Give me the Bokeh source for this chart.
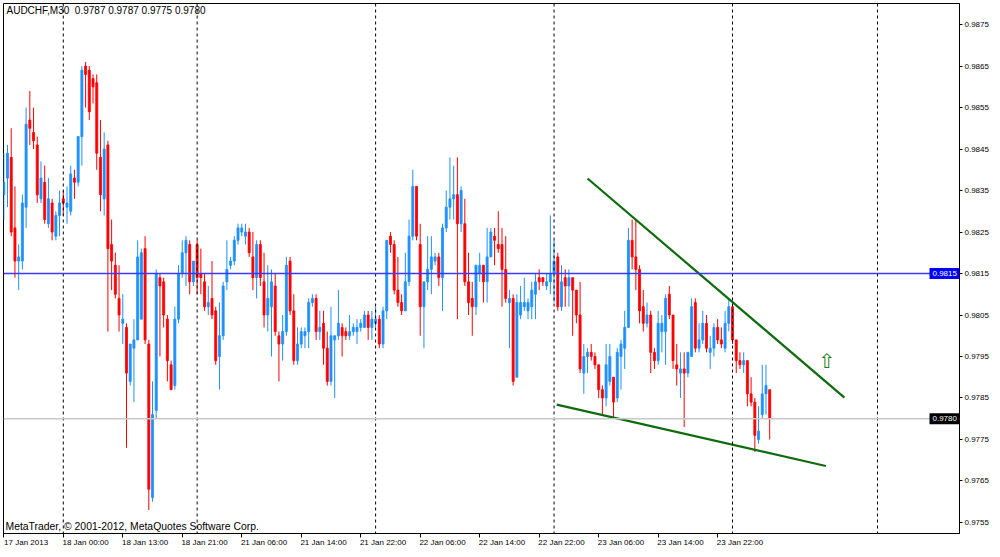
from bokeh.plotting import figure
from bokeh.models import (ColumnDataSource, Span, Label, FixedTicker, Range1d,
                          PrintfTickFormatter, LinearAxis, BoxAnnotation)
from bokeh.embed import file_html
from bokeh.resources import INLINE
from bokeh.core.properties import value

# ---------------- data ----------------
symbol = "AUDCHF,M30"
last_ohlc = [0.9787, 0.9787, 0.9775, 0.9780]
copyright_text = "MetaTrader, \u00a9 2001-2012, MetaQuotes Software Corp."

opens = [0.9834, 0.9838, 0.9843, 0.9826, 0.9818, 0.9818, 0.9831, 0.9852, 0.9849, 0.9846,
         0.9833, 0.9837, 0.9827, 0.9832, 0.9824, 0.9829, 0.9833, 0.9831, 0.9830, 0.9838,
         0.9837, 0.9848, 0.9865, 0.9864, 0.9862, 0.9861, 0.9843, 0.9833, 0.9846, 0.9822,
         0.9817, 0.9809, 0.9803, 0.9802, 0.9789, 0.9797, 0.9799, 0.9804, 0.9821, 0.9798,
         0.9761, 0.9782, 0.9814, 0.9813, 0.9804, 0.9793, 0.9788, 0.9804, 0.9815, 0.9820,
         0.9822, 0.9813, 0.9822, 0.9815, 0.9813, 0.9807, 0.9809, 0.9806, 0.9795, 0.9800,
         0.9813, 0.9817, 0.9818, 0.9823, 0.9825, 0.9824, 0.9825, 0.9819, 0.9814, 0.9822,
         0.9813, 0.9805, 0.9807, 0.9812, 0.9800, 0.9798, 0.9801, 0.9818, 0.9806, 0.9794,
         0.9798, 0.9800, 0.9801, 0.9808, 0.9809, 0.9801, 0.9803, 0.9797, 0.9789, 0.9799,
         0.9800, 0.9802, 0.9801, 0.9800, 0.9801, 0.9801, 0.9802, 0.9802, 0.9805, 0.9802,
         0.9803, 0.9804, 0.9798, 0.9806, 0.9824, 0.9822, 0.9811, 0.9808, 0.9806, 0.9813,
         0.9824, 0.9836, 0.9822, 0.9807, 0.9813, 0.9816, 0.9818, 0.9819, 0.9814, 0.9826,
         0.9831, 0.9833, 0.9834, 0.9827, 0.9827, 0.9813, 0.9809, 0.9807, 0.9815, 0.9817,
         0.9813, 0.9819, 0.9824, 0.9822, 0.9822, 0.9816, 0.9808, 0.9809, 0.9790, 0.9805,
         0.9807, 0.9806, 0.9807, 0.9810, 0.9814, 0.9814, 0.9812, 0.9813, 0.9815, 0.9819,
         0.9807, 0.9814, 0.9812, 0.9814, 0.9811, 0.9805, 0.9791, 0.9795, 0.9796, 0.9795,
         0.9793, 0.9787, 0.9785, 0.9789, 0.9790, 0.9785, 0.9795, 0.9797, 0.9802, 0.9823,
         0.9819, 0.9816, 0.9807, 0.9803, 0.9805, 0.9796, 0.9794, 0.9801, 0.9801, 0.9810,
         0.9805, 0.9793, 0.9791, 0.9792, 0.9791, 0.9795, 0.9808, 0.9797, 0.9799, 0.9803,
         0.9796, 0.9797, 0.9802, 0.9799, 0.9797, 0.9803, 0.9807, 0.9799, 0.9794, 0.9793,
         0.9794, 0.9786, 0.9784, 0.9775, 0.9781, 0.9786, 0.9787]
highs = [0.9844, 0.9846, 0.9850, 0.9836, 0.9822, 0.9834, 0.9855, 0.9859, 0.9855, 0.9848,
         0.9842, 0.9841, 0.9838, 0.9833, 0.9830, 0.9835, 0.9835, 0.9836, 0.9841, 0.9840,
         0.9848, 0.9865, 0.9866, 0.9865, 0.9863, 0.9863, 0.9852, 0.9849, 0.9847, 0.9828,
         0.9820, 0.9817, 0.9810, 0.9803, 0.9798, 0.9804, 0.9823, 0.9821, 0.9824, 0.9799,
         0.9789, 0.9816, 0.9815, 0.9814, 0.9805, 0.9794, 0.9807, 0.9817, 0.9823, 0.9824,
         0.9823, 0.9818, 0.9823, 0.9821, 0.9815, 0.9812, 0.9818, 0.9807, 0.9808, 0.9813,
         0.9823, 0.9819, 0.9824, 0.9827, 0.9827, 0.9827, 0.9826, 0.9825, 0.9823, 0.9823,
         0.9820, 0.9817, 0.9816, 0.9815, 0.9801, 0.9805, 0.9819, 0.9819, 0.9810, 0.9802,
         0.9802, 0.9802, 0.9809, 0.9810, 0.9810, 0.9806, 0.9806, 0.9801, 0.9807, 0.9800,
         0.9811, 0.9803, 0.9802, 0.9805, 0.9803, 0.9804, 0.9804, 0.9806, 0.9806, 0.9806,
         0.9807, 0.9805, 0.9807, 0.9823, 0.9825, 0.9823, 0.9819, 0.9810, 0.9820, 0.9828,
         0.9840, 0.9836, 0.9827, 0.9813, 0.9824, 0.9824, 0.9820, 0.9820, 0.9827, 0.9835,
         0.9843, 0.9841, 0.9843, 0.9836, 0.9833, 0.9820, 0.9813, 0.9817, 0.9820, 0.9817,
         0.9826, 0.9826, 0.9826, 0.9830, 0.9826, 0.9824, 0.9811, 0.9810, 0.9810, 0.9812,
         0.9814, 0.9809, 0.9813, 0.9815, 0.9816, 0.9814, 0.9815, 0.9829, 0.9823, 0.9820,
         0.9817, 0.9816, 0.9816, 0.9814, 0.9811, 0.9813, 0.9798, 0.9797, 0.9798, 0.9796,
         0.9793, 0.9788, 0.9798, 0.9798, 0.9790, 0.9797, 0.9799, 0.9806, 0.9826, 0.9828,
         0.9828, 0.9817, 0.9811, 0.9808, 0.9806, 0.9797, 0.9806, 0.9805, 0.9810, 0.9812,
         0.9805, 0.9798, 0.9796, 0.9796, 0.9796, 0.9809, 0.9809, 0.9803, 0.9806, 0.9805,
         0.9800, 0.9803, 0.9804, 0.9802, 0.9806, 0.9809, 0.9807, 0.9799, 0.9796, 0.9796,
         0.9794, 0.9790, 0.9785, 0.9783, 0.9793, 0.9793, 0.9787]
lows = [0.9828, 0.9831, 0.9824, 0.9814, 0.9811, 0.9816, 0.9826, 0.9846, 0.9845, 0.9832,
        0.9832, 0.9827, 0.9826, 0.9823, 0.9823, 0.9824, 0.9829, 0.9827, 0.9829, 0.9833,
        0.9836, 0.9841, 0.9855, 0.9852, 0.9856, 0.9840, 0.9830, 0.9829, 0.9801, 0.9811,
        0.9809, 0.9801, 0.9798, 0.9773, 0.9788, 0.9784, 0.9799, 0.9804, 0.9798, 0.9758,
        0.9760, 0.9780, 0.9795, 0.9802, 0.9789, 0.9787, 0.9787, 0.9803, 0.9814, 0.9812,
        0.9810, 0.9812, 0.9810, 0.9810, 0.9806, 0.9805, 0.9804, 0.9793, 0.9787, 0.9799,
        0.9811, 0.9816, 0.9817, 0.9822, 0.9824, 0.9822, 0.9819, 0.9811, 0.9809, 0.9812,
        0.9802, 0.9801, 0.9795, 0.9800, 0.9789, 0.9794, 0.9800, 0.9805, 0.9793, 0.9793,
        0.9797, 0.9797, 0.9797, 0.9807, 0.9799, 0.9799, 0.9793, 0.9788, 0.9788, 0.9785,
        0.9799, 0.9795, 0.9799, 0.9799, 0.9800, 0.9798, 0.9801, 0.9802, 0.9799, 0.9799,
        0.9802, 0.9797, 0.9797, 0.9804, 0.9820, 0.9810, 0.9807, 0.9805, 0.9806, 0.9812,
        0.9823, 0.9823, 0.9800, 0.9797, 0.9811, 0.9810, 0.9817, 0.9812, 0.9806, 0.9825,
        0.9828, 0.9828, 0.9804, 0.9825, 0.9812, 0.9805, 0.9800, 0.9805, 0.9813, 0.9808,
        0.9808, 0.9819, 0.9817, 0.9820, 0.9807, 0.9808, 0.9797, 0.9788, 0.9790, 0.9804,
        0.9806, 0.9804, 0.9804, 0.9804, 0.9811, 0.9812, 0.9811, 0.9810, 0.9808, 0.9806,
        0.9806, 0.9807, 0.9807, 0.9800, 0.9803, 0.9791, 0.9786, 0.9791, 0.9794, 0.9792,
        0.9785, 0.9781, 0.9783, 0.9788, 0.9780, 0.9784, 0.9787, 0.9792, 0.9802, 0.9816,
        0.9811, 0.9803, 0.9801, 0.9802, 0.9791, 0.9792, 0.9793, 0.9796, 0.9793, 0.9804,
        0.9792, 0.9788, 0.9785, 0.9778, 0.9790, 0.9795, 0.9796, 0.9796, 0.9798, 0.9796,
        0.9792, 0.9795, 0.9798, 0.9797, 0.9796, 0.9801, 0.9798, 0.9791, 0.9792, 0.9791,
        0.9783, 0.9783, 0.9772, 0.9774, 0.9780, 0.9781, 0.9775]
closes = [0.9837, 0.9844, 0.9825, 0.9818, 0.9819, 0.9832, 0.9851, 0.9850, 0.9847, 0.9834,
          0.9838, 0.9828, 0.9833, 0.9825, 0.9829, 0.9832, 0.9832, 0.9832, 0.9839, 0.9837,
          0.9848, 0.9864, 0.9863, 0.9854, 0.9860, 0.9844, 0.9834, 0.9845, 0.9821, 0.9818,
          0.9810, 0.9805, 0.9804, 0.9791, 0.9798, 0.9799, 0.9819, 0.9820, 0.9799, 0.9763,
          0.9781, 0.9815, 0.9812, 0.9805, 0.9794, 0.9787, 0.9804, 0.9815, 0.9820, 0.9823,
          0.9813, 0.9818, 0.9814, 0.9814, 0.9807, 0.9808, 0.9805, 0.9794, 0.9800, 0.9812,
          0.9816, 0.9818, 0.9823, 0.9826, 0.9826, 0.9825, 0.9820, 0.9814, 0.9822, 0.9814,
          0.9805, 0.9809, 0.9813, 0.9801, 0.9798, 0.9801, 0.9817, 0.9806, 0.9794, 0.9798,
          0.9801, 0.9801, 0.9808, 0.9809, 0.9801, 0.9802, 0.9797, 0.9789, 0.9800, 0.9800,
          0.9803, 0.9800, 0.9800, 0.9801, 0.9802, 0.9802, 0.9803, 0.9805, 0.9802, 0.9804,
          0.9804, 0.9798, 0.9806, 0.9823, 0.9822, 0.9811, 0.9808, 0.9806, 0.9813, 0.9824,
          0.9836, 0.9824, 0.9807, 0.9813, 0.9816, 0.9819, 0.9819, 0.9814, 0.9826, 0.9831,
          0.9833, 0.9834, 0.9827, 0.9835, 0.9813, 0.9808, 0.9807, 0.9817, 0.9817, 0.9813,
          0.9819, 0.9825, 0.9823, 0.9821, 0.9816, 0.9809, 0.9809, 0.9789, 0.9808, 0.9808,
          0.9808, 0.9808, 0.9811, 0.9813, 0.9813, 0.9813, 0.9813, 0.9815, 0.9818, 0.9807,
          0.9813, 0.9812, 0.9814, 0.9811, 0.9805, 0.9792, 0.9795, 0.9796, 0.9795, 0.9793,
          0.9787, 0.9785, 0.9793, 0.9795, 0.9784, 0.9796, 0.9798, 0.9802, 0.9823, 0.9819,
          0.9816, 0.9806, 0.9803, 0.9805, 0.9796, 0.9794, 0.9803, 0.9803, 0.9809, 0.9805,
          0.9794, 0.9792, 0.9792, 0.9791, 0.9796, 0.9807, 0.9797, 0.9799, 0.9803, 0.9797,
          0.9797, 0.9802, 0.9799, 0.9798, 0.9803, 0.9807, 0.9799, 0.9794, 0.9793, 0.9794,
          0.9786, 0.9784, 0.9776, 0.9777, 0.9786, 0.9788, 0.9780]

time_tick_bars = [0, 16, 32, 48, 64, 80, 96, 112, 128, 144, 160, 176, 192]
time_tick_labels = ["17 Jan 2013", "18 Jan 00:00", "18 Jan 13:00", "18 Jan 21:00",
                    "21 Jan 06:00", "21 Jan 14:00", "21 Jan 22:00", "22 Jan 06:00",
                    "22 Jan 14:00", "22 Jan 22:00", "23 Jan 06:00", "23 Jan 14:00",
                    "23 Jan 22:00"]
separator_bars = [16, 52, 100, 148, 196, 235]
price_ticks = [0.9755, 0.9765, 0.9775, 0.9785, 0.9795, 0.9805, 0.9815, 0.9825,
               0.9835, 0.9845, 0.9855, 0.9865, 0.9875]
level_price = 0.9815
bid_price = 0.9780
upper_trend_bars = [157.0, 226.1]
upper_trend_prices = [0.98379, 0.97851]
lower_trend_bars = [148.7, 221.1]
lower_trend_prices = [0.97834, 0.97686]
arrow_bar = 221.3
arrow_price = 0.97940

# ---------------- chart ----------------
PX_PER_PRICE = 41250.0          # vertical scale of the price axis
PX_PER_BAR = 3.718              # horizontal scale of the bar axis
X0, X1 = -0.08, 257.05
Y0, Y1 = 0.975233, 0.988009
LABEL_SHIFT = 6                 # bars: centres the time labels so they start at their tick

n = len(opens)
idx = list(range(n))
BULL = "#1E90FF"
BEAR = "#FF0000"
colors = [BULL if c >= o else BEAR for o, c in zip(opens, closes)]
tops = [max(o, c) for o, c in zip(opens, closes)]
bottoms = [min(o, c) for o, c in zip(opens, closes)]

src = ColumnDataSource(dict(x=idx, high=highs, low=lows, top=tops, bottom=bottoms, color=colors))

p = figure(width=992, height=549, output_backend="svg", toolbar_location=None,
           x_range=Range1d(X0, X1), y_range=Range1d(Y0, Y1),
           y_axis_location="right", x_axis_location="below",
           min_border_left=3, min_border_top=3, min_border_right=33, min_border_bottom=13,
           background_fill_color="white", border_fill_color="white",
           outline_line_color="black", outline_line_width=1)

p.xgrid.visible = False
p.ygrid.visible = False

FONT = "Liberation Sans"

# x axis: tick marks at the labelled bars
xa = p.xaxis[0]
xa.ticker = FixedTicker(ticks=time_tick_bars)
xa.major_label_overrides = {b: "" for b in time_tick_bars}
xa.major_label_text_font_size = "0px"
xa.major_label_standoff = 0
xa.major_tick_in = 0
xa.major_tick_out = 4
xa.minor_tick_line_color = None
xa.axis_line_color = "black"
xa.major_tick_line_color = "black"

# second x axis carrying the time labels, left-aligned at their ticks
label_pos = [b + LABEL_SHIFT for b in time_tick_bars]
xl = LinearAxis(ticker=FixedTicker(ticks=label_pos),
                major_label_overrides={c: lab for c, lab in zip(label_pos, time_tick_labels)},
                major_label_text_font=FONT, major_label_text_font_size="8px",
                major_label_text_color="black", major_label_standoff=0,
                major_tick_in=0, major_tick_out=0, minor_tick_line_color=None,
                major_tick_line_color=None, axis_line_color=None)
p.add_layout(xl, "below")

ya = p.yaxis[0]
ya.ticker = FixedTicker(ticks=price_ticks)
ya.formatter = PrintfTickFormatter(format="%.4f")
ya.major_label_text_font = FONT
ya.major_label_text_font_size = "8px"
ya.major_label_text_color = "black"
ya.major_label_standoff = 2
ya.major_tick_in = 0
ya.major_tick_out = 3
ya.minor_tick_line_color = None
ya.axis_line_color = "black"
ya.major_tick_line_color = "black"

# period separators
for b in separator_bars:
    p.add_layout(Span(location=b, dimension="height", line_color="black",
                      line_width=1, line_dash="3 3"))

# horizontal level and bid line
p.add_layout(Span(location=level_price, dimension="width", line_color="#3a3aff", line_width=1.6))
p.add_layout(Span(location=bid_price, dimension="width", line_color="#c8c8c8", line_width=1.6))

# candles
p.segment(x0="x", y0="low", x1="x", y1="high", source=src, line_color="color", line_width=1)
p.vbar(x="x", top="top", bottom="bottom", width=0.55, source=src,
       fill_color="color", line_color="color", line_width=0.8)

# trend lines
p.line(upper_trend_bars, upper_trend_prices, line_color="#0d6b0d", line_width=2.2)
p.line(lower_trend_bars, lower_trend_prices, line_color="#0d6b0d", line_width=2.2)

# arrow object
p.text(x=[arrow_bar], y=[arrow_price], text=["\u21e7"], text_color="#1a7f1a",
       text_font=value("DejaVu Sans"), text_font_size="20px",
       text_align="center", text_baseline="middle")

# header and footer texts
header = symbol + "\u00a0\u00a0" + " ".join("%.4f" % v for v in last_ohlc)
p.add_layout(Label(x=0.73, y=Y1 - 7 / PX_PER_PRICE, text=header, text_font=FONT,
                   text_font_size="10px", text_color="black", text_baseline="middle"))
p.add_layout(Label(x=0.46, y=Y0 + 7 / PX_PER_PRICE, text=copyright_text, text_font=FONT,
                   text_font_size="10.4px", text_color="black", text_baseline="middle"))

# price boxes for the level and the bid, at the right edge of the price area
BOX_W = 30 / PX_PER_BAR
BOX_H = 5.5 / PX_PER_PRICE
for price, bg in ((level_price, "#0000ff"), (bid_price, "black")):
    p.add_layout(BoxAnnotation(left=X1 - BOX_W, right=X1,
                               bottom=price - BOX_H, top=price + BOX_H,
                               fill_color=bg, fill_alpha=1.0, line_color=None,
                               level="overlay"))
    p.add_layout(Label(x=X1 - BOX_W, y=price, x_offset=3, text="%.4f" % price,
                       text_font=FONT, text_font_size="8px", text_color="white",
                       text_baseline="middle", level="overlay"))

open("out.html", "w").write(file_html(p, INLINE))
